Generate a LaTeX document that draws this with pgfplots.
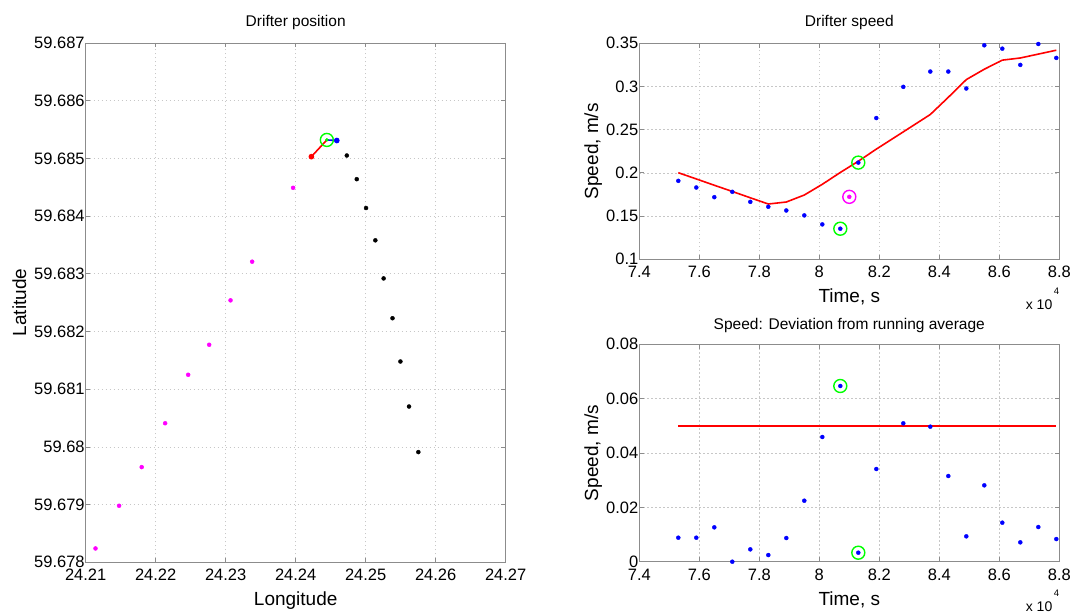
\documentclass[border=0pt]{standalone}
\usepackage{fontspec}
\setmainfont{Liberation Sans}
\usepackage{pgfplots}
\pgfplotsset{compat=1.18}

\definecolor{mblue}{rgb}{0,0,1}
\definecolor{mred}{rgb}{1,0,0}
\definecolor{mgreen}{rgb}{0,1,0}
\definecolor{mmag}{rgb}{1,0,1}

\pgfplotsset{
  mat/.style={
    scale only axis, width=420pt,
    axis line style={black!45, line width=0.9pt},
    tick style={black!45, line width=0.8pt},
    major tick length=4.5pt, tick align=inside,
    grid=major,
    major grid style={black!22, dash pattern=on 1.5pt off 2.5pt, line width=0.6pt},
    tick label style={font=\fontsize{16.5}{18}\selectfont, text=black},
    xticklabel style={yshift=-3.5pt},
    yticklabel style={xshift=2.5pt},
    scaled ticks=false, clip mode=individual,
  },
  dots/.style={only marks, mark=*, mark size=2pt, color=#1},
  ring/.style={only marks, mark=o, mark size=6.5pt, line width=1.4pt, color=#1},
}

\newcommand{\ttl}{\fontsize{15.5}{17}\selectfont}
\newcommand{\lbl}{\fontsize{19}{21}\selectfont}
\newcommand{\xten}{\fontsize{14}{15}\selectfont x 10\hspace{1.5pt}\raisebox{15pt}{\fontsize{9.5}{10}\selectfont 4}}

\begin{document}
\begin{tikzpicture}[x=1pt,y=1pt]
\useasboundingbox (0,0) rectangle (1074,614);

% drifter position
\begin{axis}[mat, at={(85.7pt,51.7pt)}, anchor=south west, height=519.3pt,
  xmin=24.21, xmax=24.27, ymin=59.678, ymax=59.687,
  xtick={24.21,24.22,24.23,24.24,24.25,24.26,24.27},
  xticklabels={24.21,24.22,24.23,24.24,24.25,24.26,24.27},
  ytick={59.678,59.679,59.68,59.681,59.682,59.683,59.684,59.685,59.686,59.687},
  yticklabels={59.678,59.679,59.68,59.681,59.682,59.683,59.684,59.685,59.686,59.687}]
\addplot[dots=mmag] coordinates {
  (24.2114,59.67824)(24.21477,59.67898)(24.21800,59.67965)(24.22135,59.68041)
  (24.22464,59.68125)(24.22764,59.68177)(24.23069,59.68254)(24.23378,59.68321)
  (24.23963,59.68449)};
\addplot[dots=black] coordinates {
  (24.24730,59.68505)(24.24872,59.68464)(24.25005,59.68414)(24.25138,59.68358)
  (24.25256,59.68292)(24.25383,59.68223)(24.25496,59.68148)(24.25619,59.68070)
  (24.25752,59.67991)};
\addplot[mred, line width=1.6pt, mark=*, mark size=2pt, mark repeat=2] coordinates {
  (24.24224,59.68503)(24.24445,59.68532)};
\addplot[mblue, line width=1.6pt, mark=*, mark size=2pt, mark phase=2] coordinates {
  (24.24445,59.68532)(24.24587,59.68531)};
\addplot[only marks, mark=*, mark size=1.6pt, color=mgreen] coordinates {(24.24445,59.68532)};
\addplot[ring=mgreen] coordinates {(24.24445,59.68532)};
\end{axis}

% drifter speed
\begin{axis}[mat, at={(639.3pt,354.7pt)}, anchor=south west, height=216pt,
  xmin=7.4, xmax=8.8, ymin=0.1, ymax=0.35,
  xtick={7.4,7.6,7.8,8,8.2,8.4,8.6,8.8},
  xticklabels={7.4,7.6,7.8,8,8.2,8.4,8.6,8.8},
  ytick={0.1,0.15,0.2,0.25,0.3,0.35},
  yticklabels={0.1,0.15,0.2,0.25,0.3,0.35}]
\addplot[mred, line width=1.6pt] coordinates {
  (7.53,0.2002)(7.59,0.1930)(7.65,0.1857)(7.71,0.1785)(7.77,0.1712)(7.83,0.1640)
  (7.89,0.1663)(7.95,0.1744)(8.01,0.1868)(8.07,0.2005)(8.13,0.2135)(8.19,0.2275)
  (8.28,0.2475)(8.37,0.2676)(8.43,0.2875)(8.49,0.3080)(8.55,0.3200)(8.61,0.3305)
  (8.67,0.3330)(8.73,0.3375)(8.79,0.3420)};
\addplot[dots=mblue] coordinates {
  (7.53,0.1908)(7.59,0.1831)(7.65,0.1719)(7.71,0.1781)(7.77,0.1665)(7.83,0.1608)
  (7.89,0.1565)(7.95,0.1508)(8.01,0.1404)(8.07,0.1354)(8.13,0.2119)(8.19,0.2635)
  (8.28,0.2996)(8.37,0.3173)(8.43,0.3173)(8.49,0.2977)(8.55,0.3477)(8.61,0.3438)
  (8.67,0.3250)(8.73,0.3492)(8.79,0.3331)};
\addplot[dots=mmag] coordinates {(8.10,0.1723)};
\addplot[ring=mmag] coordinates {(8.10,0.1723)};
\addplot[ring=mgreen] coordinates {(8.07,0.1354)(8.13,0.2119)};
\end{axis}

% deviation
\begin{axis}[mat, at={(639.3pt,52.3pt)}, anchor=south west, height=217.4pt,
  xmin=7.4, xmax=8.8, ymin=0, ymax=0.08,
  xtick={7.4,7.6,7.8,8,8.2,8.4,8.6,8.8},
  xticklabels={7.4,7.6,7.8,8,8.2,8.4,8.6,8.8},
  ytick={0,0.02,0.04,0.06,0.08},
  yticklabels={0,0.02,0.04,0.06,0.08}]
\addplot[mred, line width=1.6pt] coordinates {(7.53,0.05)(8.79,0.05)};
\addplot[dots=mblue] coordinates {
  (7.53,0.00883)(7.59,0.00883)(7.65,0.01264)(7.71,0.0)(7.77,0.00454)(7.83,0.00245)
  (7.89,0.00871)(7.95,0.02245)(8.01,0.04589)(8.07,0.06466)(8.13,0.00331)(8.19,0.03411)
  (8.28,0.05092)(8.37,0.04969)(8.43,0.03153)(8.49,0.00933)(8.55,0.02810)(8.61,0.01436)
  (8.67,0.00712)(8.73,0.01276)(8.79,0.00834)};
\addplot[ring=mgreen] coordinates {(8.07,0.06466)(8.13,0.00331)};
\end{axis}

% titles and labels
\node[anchor=base, font=\ttl] at (295.7,587.3) {Drifter position};
\node[anchor=base, font=\lbl] at (295.7,9) {Longitude};
\node[anchor=base, rotate=90, font=\lbl] at (26,311.4) {Latitude};

\node[anchor=base, font=\ttl] at (849.3,587.3) {Drifter speed};
\node[anchor=base, font=\lbl] at (849.3,311.3) {Time, s};
\node[anchor=base, rotate=90, font=\lbl] at (598,462.7) {Speed, m/s};
\node[anchor=base east, inner sep=0pt] at (1059.3,304.7) {\xten};

\node[anchor=base, font=\ttl] at (849.3,284.7) {Speed: Deviation from running average};
\node[anchor=base, font=\lbl] at (849.3,9) {Time, s};
\node[anchor=base, rotate=90, font=\lbl] at (598,161) {Speed, m/s};
\node[anchor=base east, inner sep=0pt] at (1059.3,2.3) {\xten};
\end{tikzpicture}
\end{document}
